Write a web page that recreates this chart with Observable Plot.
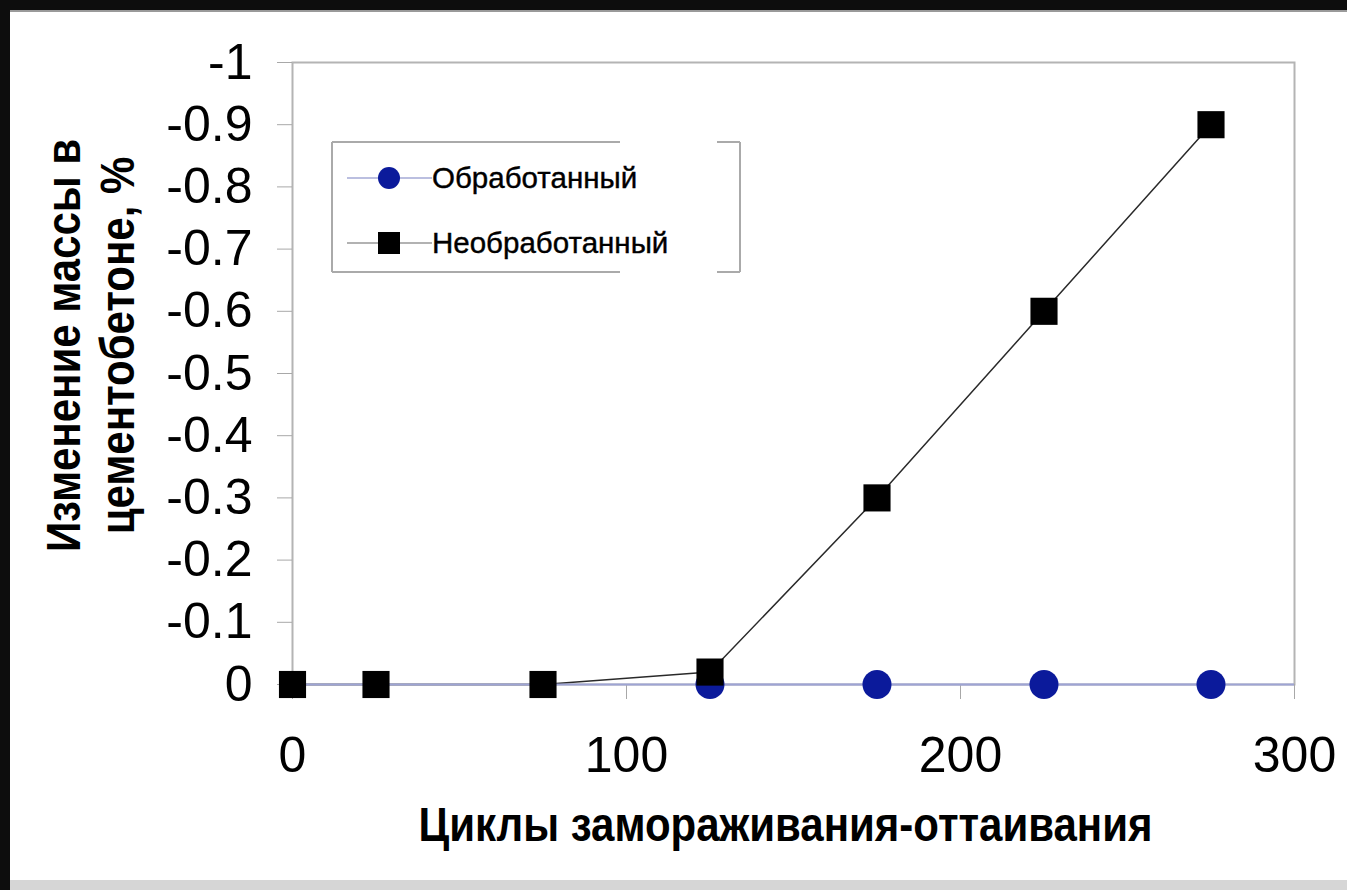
<!DOCTYPE html>
<html>
<head>
<meta charset="utf-8">
<script src="https://cdn.jsdelivr.net/npm/d3@7"></script>
<script src="https://cdn.jsdelivr.net/npm/@observablehq/plot@0.6"></script>
<style>
  html, body { margin: 0; padding: 0; background: #fff; }
  #page { position: relative; width: 1347px; height: 890px; overflow: hidden; background: #fff; }
  #chart { position: absolute; left: 0; top: 0; }
  .band { position: absolute; }
  #legend { position: absolute; left: 330px; top: 140px; }
</style>
</head>
<body>
<div id="page">
  <div id="chart"></div>
  <svg id="legend" width="420" height="140" font-family="Liberation Sans, Arial, sans-serif">
    <line x1="2" y1="2" x2="290" y2="2" stroke="#aaaaaa" stroke-width="2"/>
    <line x1="387" y1="2" x2="410" y2="2" stroke="#aaaaaa" stroke-width="2"/>
    <line x1="2" y1="132" x2="290" y2="132" stroke="#aaaaaa" stroke-width="2"/>
    <line x1="387" y1="132" x2="410" y2="132" stroke="#aaaaaa" stroke-width="2"/>
    <line x1="2" y1="2" x2="2" y2="132" stroke="#aaaaaa" stroke-width="2"/>
    <line x1="410" y1="2" x2="410" y2="132" stroke="#aaaaaa" stroke-width="2"/>
    <line x1="17" y1="38" x2="102" y2="38" stroke="#a4aad6" stroke-width="1.5"/>
    <circle cx="59" cy="38" r="11" fill="#0b1a9b"/>
    <text x="102" y="48" font-size="29.5" fill="#000" stroke="#000" stroke-width="0.4">Обработанный</text>
    <line x1="17" y1="103" x2="102" y2="103" stroke="#999999" stroke-width="1.5"/>
    <rect x="48" y="92" width="22" height="22" fill="#000"/>
    <text x="102" y="113" font-size="29.5" fill="#000" stroke="#000" stroke-width="0.4">Необработанный</text>
  </svg>
  <div class="band" style="left:0;top:0;width:1347px;height:10px;background:#0d0d0d;"></div>
  <div class="band" style="left:0;top:10px;width:1347px;height:2px;background:#9a9a9a;"></div>
  <div class="band" style="left:0;top:0;width:10px;height:890px;background:#0d0d0d;"></div>
  <div class="band" style="left:10px;top:880px;width:1337px;height:10px;background:#d6d6d6;"></div>
</div>
<script>
// Data
const cycles = [0, 25, 75, 125, 175, 225, 275];
const untreated = [0, 0, 0, -0.02, -0.3, -0.6, -0.9];
const treatedCycles = [125, 175, 225, 275];
const treated = [0, 0, 0, 0];

const xTicks = [0, 100, 200, 300];
const xTickLabels = ["0", "100", "200", "300"];
const yTicks = [0, -0.1, -0.2, -0.3, -0.4, -0.5, -0.6, -0.7, -0.8, -0.9, -1];
const yTickLabels = ["0", "-0.1", "-0.2", "-0.3", "-0.4", "-0.5", "-0.6", "-0.7", "-0.8", "-0.9", "-1"];

const xTitle = "Циклы замораживания-оттаивания";
const yTitle = "Изменение массы в\nцементобетоне, %";

const untreatedData = cycles.map((c, i) => ({x: c, y: untreated[i]}));
const treatedData = treatedCycles.map((c, i) => ({x: c, y: treated[i]}));

const chart = Plot.plot({
  width: 1347,
  height: 890,
  marginLeft: 292,
  marginRight: 53,
  marginTop: 62,
  marginBottom: 206,
  style: {fontFamily: "Liberation Sans, Arial, sans-serif", fontSize: "50px", background: "white", color: "black"},
  x: {domain: [0, 300]},
  y: {domain: [0, -1]},
  marks: [
    Plot.frame({stroke: "#b4b4b4", strokeWidth: 2}),
    Plot.axisY({ticks: yTicks, tickFormat: d => yTickLabels[yTicks.indexOf(d)], tickSize: 15, tickPadding: 25, stroke: "#a8a8a8", fill: "black", fontSize: 50, label: null}),
    Plot.axisX({ticks: xTicks, tickFormat: d => xTickLabels[xTicks.indexOf(d)], tickSize: 15, tickPadding: 37, stroke: "#a8a8a8", fill: "black", fontSize: 50, label: null}),
    Plot.line(untreatedData, {x: "x", y: "y", stroke: "#2a2a2a", strokeWidth: 1.5}),
    Plot.ruleY([0], {stroke: "#9ea4d4", strokeWidth: 2}),
    Plot.line(treatedData, {x: "x", y: "y", stroke: "#9ea4d4", strokeWidth: 1.5}),
    Plot.dot(treatedData, {x: "x", y: "y", r: 14.5, fill: "#0b1a9b", stroke: "none"}),
    Plot.dot(untreatedData, {x: "x", y: "y", symbol: "square", r: 15.3, fill: "#000", stroke: "none"}),
    Plot.text([xTitle], {text: d => d, frameAnchor: "bottom", lineAnchor: "bottom", dy: 156, dx: -8, fontSize: 48, fontWeight: "bold", fill: "black"}),
    Plot.text([yTitle], {text: d => d, frameAnchor: "left", rotate: -90, textAnchor: "middle", lineAnchor: "middle", lineHeight: 1.12, dx: -203, dy: -28, fontSize: 48, fontWeight: "bold", fill: "black"})
  ]
});
// Condense the bold titles horizontally (along the text direction), as in the original
d3.select(chart).selectAll("text").filter(function() {
  const t = this.textContent;
  return t === xTitle || t === yTitle.replace("\n", "") || t.startsWith("Изменение");
}).each(function() {
  const tr = this.getAttribute("transform") || "";
  this.setAttribute("transform", (tr + " scale(0.875,1)").trim());
});
document.getElementById("chart").appendChild(chart);
</script>
</body>
</html>
